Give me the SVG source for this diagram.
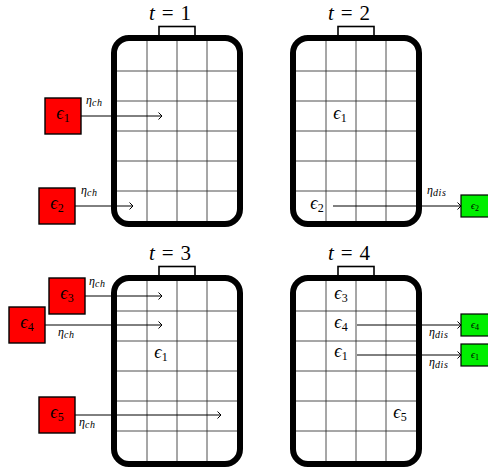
<svg xmlns="http://www.w3.org/2000/svg" width="488" height="469" viewBox="0 0 488 469">
<defs>
<style>
.bat{fill:#fff;stroke:#000;stroke-width:6}
.cap{fill:#fff;stroke:#000;stroke-width:1.6}
.grid line{stroke:#222;stroke-width:0.8}
.red{fill:#ff0000;stroke:#000;stroke-width:1.4}
.grn{fill:#00ee00;stroke:#000;stroke-width:1.2}
.conn line{stroke:#000;stroke-width:1;fill:none}
text{font-family:"Liberation Serif","DejaVu Serif",serif;fill:#000}
.title{font-size:21px}
.e{font-size:18px;text-anchor:middle}
.es{font-size:10px;text-anchor:middle}
.lab{font-size:12px}
.sub{font-size:10px;font-style:italic;letter-spacing:0.6px}
.i{font-style:italic}
</style>
<marker id="arr" viewBox="-5 -5 7 10" markerWidth="7" markerHeight="10" refX="0" refY="0" orient="auto" markerUnits="userSpaceOnUse">
<path d="M-3.5,-3.5 L0,0 L-3.5,3.5" fill="none" stroke="#000" stroke-width="1"/>
</marker>
<g id="battery">
<rect class="cap" x="159" y="26.5" width="36" height="10"/>
<rect class="bat" x="114" y="38" width="126" height="186" rx="15"/>
<g class="grid">
<line x1="147" y1="41" x2="147" y2="221"/>
<line x1="177" y1="41" x2="177" y2="221"/>
<line x1="207" y1="41" x2="207" y2="221"/>
<line x1="117" y1="71" x2="237" y2="71"/>
<line x1="117" y1="101" x2="237" y2="101"/>
<line x1="117" y1="131" x2="237" y2="131"/>
<line x1="117" y1="161" x2="237" y2="161"/>
<line x1="117" y1="191" x2="237" y2="191"/>
</g>
</g>
</defs>

<g id="battery1">
<use href="#battery"/>
<text class="title" x="170" y="20" text-anchor="middle"><tspan class="i">t</tspan><tspan dx="7">=</tspan><tspan dx="7">1</tspan></text>
</g>
<g id="battery2">
<use href="#battery" transform="translate(179,0)"/>
<text class="title" x="349" y="20" text-anchor="middle"><tspan class="i">t</tspan><tspan dx="7">=</tspan><tspan dx="7">2</tspan></text>
<text class="e" x="340" y="119"><tspan class="i">ϵ</tspan><tspan font-size="12" dy="3">1</tspan></text>
<text class="e" x="317" y="209"><tspan class="i">ϵ</tspan><tspan font-size="12" dy="3">2</tspan></text>
</g>
<g id="battery3">
<use href="#battery" transform="translate(0,240)"/>
<text class="title" x="170" y="260" text-anchor="middle"><tspan class="i">t</tspan><tspan dx="7">=</tspan><tspan dx="7">3</tspan></text>
<text class="e" x="161" y="358"><tspan class="i">ϵ</tspan><tspan font-size="12" dy="3">1</tspan></text>
</g>
<g id="battery4">
<use href="#battery" transform="translate(179,240)"/>
<text class="title" x="349" y="260" text-anchor="middle"><tspan class="i">t</tspan><tspan dx="7">=</tspan><tspan dx="7">4</tspan></text>
<text class="e" x="341" y="299"><tspan class="i">ϵ</tspan><tspan font-size="12" dy="3">3</tspan></text>
<text class="e" x="341" y="328"><tspan class="i">ϵ</tspan><tspan font-size="12" dy="3">4</tspan></text>
<text class="e" x="341" y="357"><tspan class="i">ϵ</tspan><tspan font-size="12" dy="3">1</tspan></text>
<text class="e" x="400" y="418"><tspan class="i">ϵ</tspan><tspan font-size="12" dy="3">5</tspan></text>
</g>

<g id="in-e1-t1"><rect class="red" x="45" y="98" width="36" height="36"/><text class="e" x="63" y="119"><tspan class="i">ϵ</tspan><tspan font-size="12" dy="3">1</tspan></text></g>
<g id="in-e2-t1"><rect class="red" x="39" y="188" width="36" height="36"/><text class="e" x="57" y="209"><tspan class="i">ϵ</tspan><tspan font-size="12" dy="3">2</tspan></text></g>
<g id="in-e3-t3"><rect class="red" x="49" y="278" width="36" height="36"/><text class="e" x="67" y="299"><tspan class="i">ϵ</tspan><tspan font-size="12" dy="3">3</tspan></text></g>
<g id="in-e4-t3"><rect class="red" x="9" y="307" width="36" height="36"/><text class="e" x="27" y="328"><tspan class="i">ϵ</tspan><tspan font-size="12" dy="3">4</tspan></text></g>
<g id="in-e5-t3"><rect class="red" x="39" y="397" width="36" height="36"/><text class="e" x="57" y="418"><tspan class="i">ϵ</tspan><tspan font-size="12" dy="3">5</tspan></text></g>

<g id="out-e2-t2"><rect class="grn" x="461" y="195" width="28" height="22"/><text class="es" x="475" y="209"><tspan class="i">ϵ</tspan><tspan font-size="8" dy="2">2</tspan></text></g>
<g id="out-e4-t4"><rect class="grn" x="461" y="314" width="28" height="22"/><text class="es" x="475" y="328"><tspan class="i">ϵ</tspan><tspan font-size="8" dy="2">4</tspan></text></g>
<g id="out-e1-t4"><rect class="grn" x="461" y="344" width="28" height="22"/><text class="es" x="475" y="358"><tspan class="i">ϵ</tspan><tspan font-size="8" dy="2">1</tspan></text></g>

<g id="connectors" class="conn">
<line x1="81" y1="116" x2="162" y2="116" marker-end="url(#arr)"/>
<line x1="75" y1="206" x2="133" y2="206" marker-end="url(#arr)"/>
<line x1="333" y1="206" x2="461" y2="206" marker-end="url(#arr)"/>
<line x1="85" y1="296" x2="162" y2="296" marker-end="url(#arr)"/>
<line x1="45" y1="325" x2="162" y2="325" marker-end="url(#arr)"/>
<line x1="75" y1="415" x2="221" y2="415" marker-end="url(#arr)"/>
<line x1="357" y1="325" x2="461" y2="325" marker-end="url(#arr)"/>
<line x1="357" y1="355" x2="461" y2="355" marker-end="url(#arr)"/>
</g>

<g id="labels" class="lab">
<text x="86" y="104"><tspan class="i">η</tspan><tspan class="sub" dy="2">ch</tspan></text>
<text x="81" y="194"><tspan class="i">η</tspan><tspan class="sub" dy="2">ch</tspan></text>
<text x="427" y="194"><tspan class="i">η</tspan><tspan class="sub" dy="2">dis</tspan></text>
<text x="89" y="285"><tspan class="i">η</tspan><tspan class="sub" dy="2">ch</tspan></text>
<text x="58" y="336"><tspan class="i">η</tspan><tspan class="sub" dy="2">ch</tspan></text>
<text x="79" y="426"><tspan class="i">η</tspan><tspan class="sub" dy="2">ch</tspan></text>
<text x="429" y="336"><tspan class="i">η</tspan><tspan class="sub" dy="2">dis</tspan></text>
<text x="429" y="366"><tspan class="i">η</tspan><tspan class="sub" dy="2">dis</tspan></text>
</g>
</svg>
